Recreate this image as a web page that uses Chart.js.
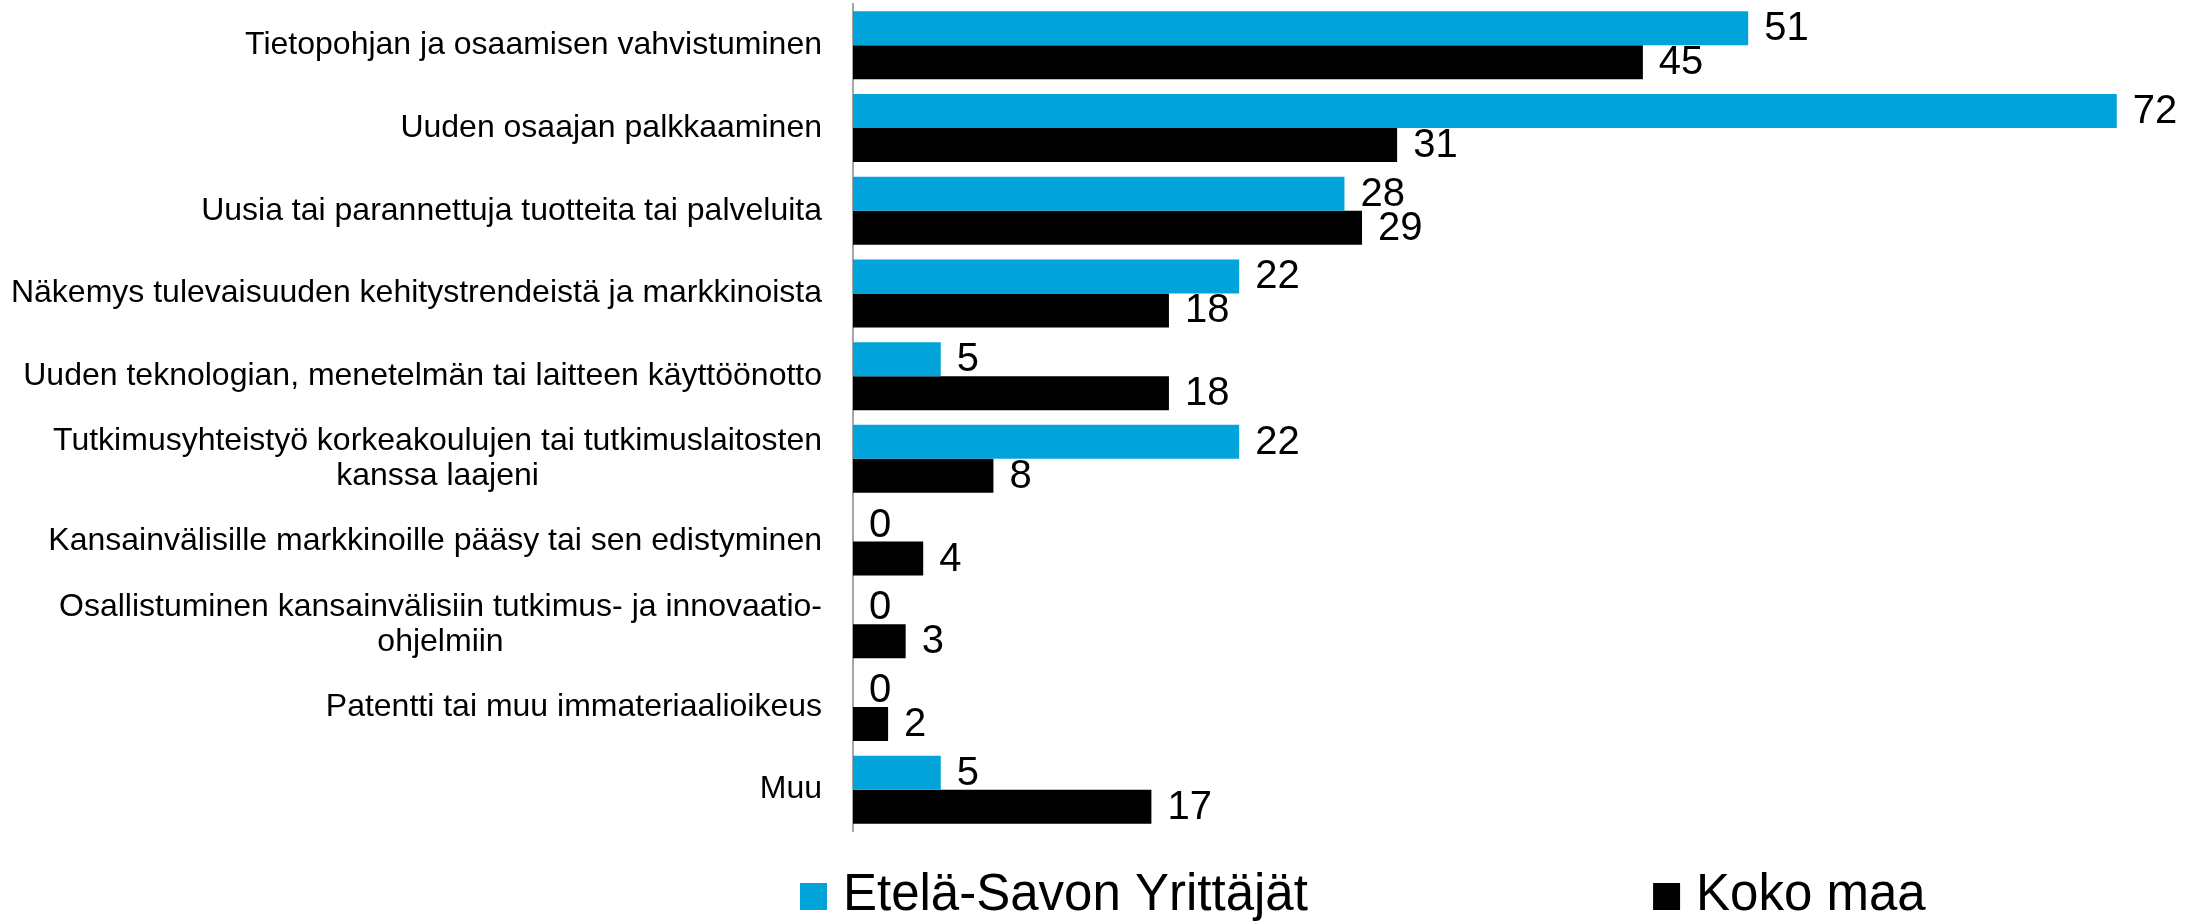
<!DOCTYPE html>
<html lang="fi">
<head>
<meta charset="utf-8">
<title>Hyödyt</title>
<script src="https://cdn.jsdelivr.net/npm/chart.js@4/dist/chart.umd.min.js"></script>
<style>
  html, body { margin: 0; padding: 0; background: #ffffff; }
  #wrap { position: relative; width: 2205px; height: 921px; }
</style>
</head>
<body>
<div id="wrap"><canvas id="chart" width="2205" height="921"></canvas></div>
<script>
// Categories (two of them wrap onto a second line)
const categories = [
  'Tietopohjan ja osaamisen vahvistuminen',
  'Uuden osaajan palkkaaminen',
  'Uusia tai parannettuja tuotteita tai palveluita',
  'Näkemys tulevaisuuden kehitystrendeistä ja markkinoista',
  'Uuden teknologian, menetelmän tai laitteen käyttöönotto',
  ['Tutkimusyhteistyö korkeakoulujen tai tutkimuslaitosten', 'kanssa laajeni'],
  'Kansainvälisille markkinoille pääsy tai sen edistyminen',
  ['Osallistuminen kansainvälisiin tutkimus- ja innovaatio-', 'ohjelmiin'],
  'Patentti tai muu immateriaalioikeus',
  'Muu'
];

// Series values (%)
const etelaSavo = [51, 72, 28, 22, 5, 22, 0, 0, 0, 5];
const kokoMaa   = [45, 31, 29, 18, 18, 8, 4, 3, 2, 17];

const seriesNames = ['Etelä-Savon Yrittäjät', 'Koko maa'];

const FONT = "'Liberation Sans', Arial, Helvetica, sans-serif";
const BLUE = '#00A4DB';
const BLACK = '#000000';

// Category labels drawn to the left of the axis; wrapped labels are centred line by line
const categoryLabels = {
  id: 'categoryLabels',
  afterDraw(chart) {
    const { ctx, chartArea } = chart;
    const yScale = chart.scales.y;
    const right = chartArea.left - 31;
    const lineH = 35;
    ctx.save();
    ctx.font = '32px ' + FONT;
    ctx.fillStyle = '#000000';
    ctx.textBaseline = 'middle';
    chart.data.labels.forEach((lab, i) => {
      const yc = yScale.getPixelForTick(i);
      const lines = Array.isArray(lab) ? lab : [lab];
      if (lines.length === 1) {
        ctx.textAlign = 'right';
        ctx.fillText(lines[0], right, yc);
      } else {
        const maxW = Math.max(...lines.map(l => ctx.measureText(l).width));
        const cx = right - maxW / 2;
        ctx.textAlign = 'center';
        const y0 = yc - (lines.length - 1) * lineH / 2;
        lines.forEach((l, k) => ctx.fillText(l, cx, y0 + k * lineH));
      }
    });
    ctx.restore();
  }
};

// Value labels at the end of each bar
const valueLabels = {
  id: 'valueLabels',
  afterDatasetsDraw(chart) {
    const { ctx } = chart;
    ctx.save();
    ctx.font = '40px ' + FONT;
    ctx.fillStyle = '#000000';
    ctx.textAlign = 'left';
    ctx.textBaseline = 'middle';
    chart.data.datasets.forEach((ds, di) => {
      const meta = chart.getDatasetMeta(di);
      meta.data.forEach((bar, i) => {
        ctx.fillText(String(ds.data[i]), bar.x + 16, bar.y + 1);
      });
    });
    ctx.restore();
  }
};

// Bottom legend with two widely spaced entries
const bottomLegend = {
  id: 'bottomLegend',
  afterDraw(chart) {
    const { ctx } = chart;
    const W = chart.width;
    const starts = [W * 0.3628, W * 0.7497];
    const box = 27;
    const boxTop = 883;
    ctx.save();
    ctx.font = '51px ' + FONT;
    ctx.textAlign = 'left';
    ctx.textBaseline = 'alphabetic';
    chart.data.datasets.forEach((ds, i) => {
      const x = starts[i];
      ctx.fillStyle = ds.backgroundColor;
      ctx.fillRect(x, boxTop, box, box);
      ctx.fillStyle = '#000000';
      ctx.fillText(ds.label, x + box + 16, boxTop + box);
    });
    ctx.restore();
  }
};

new Chart(document.getElementById('chart'), {
  type: 'bar',
  data: {
    labels: categories,
    datasets: [
      { label: seriesNames[0], data: etelaSavo, backgroundColor: BLUE, borderWidth: 0 },
      { label: seriesNames[1], data: kokoMaa, backgroundColor: BLACK, borderWidth: 0 }
    ]
  },
  options: {
    indexAxis: 'y',
    responsive: false,
    animation: false,
    devicePixelRatio: 1,
    layout: { padding: { left: 853, right: 18, top: 4, bottom: 90 } },
    datasets: { bar: { categoryPercentage: 0.822, barPercentage: 1.0 } },
    scales: {
      x: {
        display: false,
        min: 0,
        max: 76
      },
      y: {
        ticks: { display: false },
        grid: { display: false, drawTicks: false },
        border: { display: true, color: '#a6a6a6', width: 2 }
      }
    },
    plugins: {
      legend: { display: false },
      tooltip: { enabled: false }
    }
  },
  plugins: [categoryLabels, valueLabels, bottomLegend]
});
</script>
</body>
</html>
